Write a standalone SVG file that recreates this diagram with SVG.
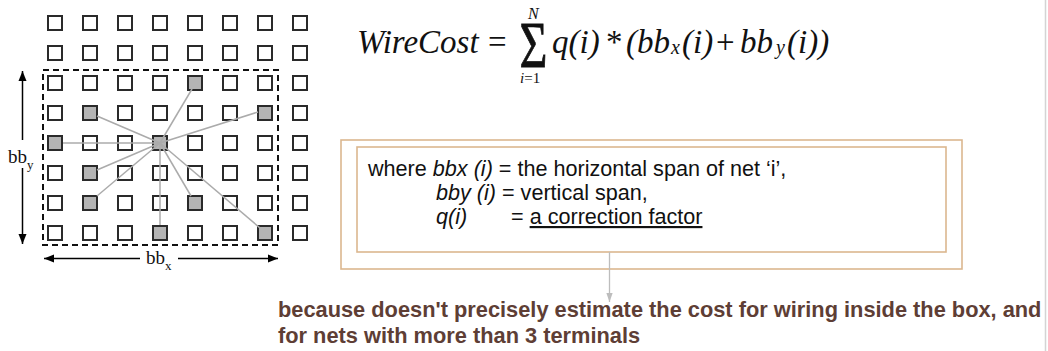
<svg xmlns="http://www.w3.org/2000/svg" width="1048" height="351" viewBox="0 0 1048 351">
<style>
.sq{fill:#fff;stroke:#2a2a2a;stroke-width:2}
.sq.on{fill:#b4b4b4}
.wire{stroke:#ababab;stroke-width:1.5;fill:none}
.ser{font-family:"Liberation Serif","Times New Roman",serif;fill:#111}
.it{font-style:italic}
.sans{font-family:"Liberation Sans",Arial,sans-serif;fill:#111;font-size:21.6px}
.bold{font-family:"Liberation Sans",Arial,sans-serif;font-weight:bold;fill:#5e3e35;font-size:21.8px}
.tan{fill:none;stroke:#dbb78f;stroke-width:1.6}
</style>
<defs>
<marker id="ah" viewBox="0 0 10 10" refX="10" refY="5" markerWidth="10" markerHeight="10" markerUnits="userSpaceOnUse" orient="auto">
<path d="M0,1 L10,5 L0,9 z" fill="#000"/>
</marker>
<marker id="ag" viewBox="0 0 10 10" refX="10" refY="5" markerWidth="9" markerHeight="9" markerUnits="userSpaceOnUse" orient="auto">
<path d="M0,1.5 L10,5 L0,8.5 z" fill="#bdbdbd"/>
</marker>
</defs>
<line x1="1045.5" y1="0" x2="1045.5" y2="351" stroke="#d4d4d4" stroke-width="1.5"/>
<g id="grid">
<rect class="sq" x="48" y="16" width="14" height="14"/><rect class="sq" x="83" y="16" width="14" height="14"/><rect class="sq" x="118" y="16" width="14" height="14"/><rect class="sq" x="153" y="16" width="14" height="14"/><rect class="sq" x="188" y="16" width="14" height="14"/><rect class="sq" x="223" y="16" width="14" height="14"/><rect class="sq" x="258" y="16" width="14" height="14"/><rect class="sq" x="293" y="16" width="14" height="14"/>
<rect class="sq" x="48" y="46" width="14" height="14"/><rect class="sq" x="83" y="46" width="14" height="14"/><rect class="sq" x="118" y="46" width="14" height="14"/><rect class="sq" x="153" y="46" width="14" height="14"/><rect class="sq" x="188" y="46" width="14" height="14"/><rect class="sq" x="223" y="46" width="14" height="14"/><rect class="sq" x="258" y="46" width="14" height="14"/><rect class="sq" x="293" y="46" width="14" height="14"/>
<rect class="sq" x="48" y="76" width="14" height="14"/><rect class="sq" x="83" y="76" width="14" height="14"/><rect class="sq" x="118" y="76" width="14" height="14"/><rect class="sq" x="153" y="76" width="14" height="14"/><rect class="sq on" x="188" y="76" width="14" height="14"/><rect class="sq" x="223" y="76" width="14" height="14"/><rect class="sq" x="258" y="76" width="14" height="14"/><rect class="sq" x="293" y="76" width="14" height="14"/>
<rect class="sq" x="48" y="106" width="14" height="14"/><rect class="sq on" x="83" y="106" width="14" height="14"/><rect class="sq" x="118" y="106" width="14" height="14"/><rect class="sq" x="153" y="106" width="14" height="14"/><rect class="sq" x="188" y="106" width="14" height="14"/><rect class="sq" x="223" y="106" width="14" height="14"/><rect class="sq on" x="258" y="106" width="14" height="14"/><rect class="sq" x="293" y="106" width="14" height="14"/>
<rect class="sq on" x="48" y="136" width="14" height="14"/><rect class="sq" x="83" y="136" width="14" height="14"/><rect class="sq" x="118" y="136" width="14" height="14"/><rect class="sq on" x="153" y="136" width="14" height="14"/><rect class="sq" x="188" y="136" width="14" height="14"/><rect class="sq" x="223" y="136" width="14" height="14"/><rect class="sq" x="258" y="136" width="14" height="14"/><rect class="sq" x="293" y="136" width="14" height="14"/>
<rect class="sq" x="48" y="166" width="14" height="14"/><rect class="sq on" x="83" y="166" width="14" height="14"/><rect class="sq" x="118" y="166" width="14" height="14"/><rect class="sq" x="153" y="166" width="14" height="14"/><rect class="sq" x="188" y="166" width="14" height="14"/><rect class="sq" x="223" y="166" width="14" height="14"/><rect class="sq" x="258" y="166" width="14" height="14"/><rect class="sq" x="293" y="166" width="14" height="14"/>
<rect class="sq" x="48" y="196" width="14" height="14"/><rect class="sq on" x="83" y="196" width="14" height="14"/><rect class="sq" x="118" y="196" width="14" height="14"/><rect class="sq" x="153" y="196" width="14" height="14"/><rect class="sq on" x="188" y="196" width="14" height="14"/><rect class="sq" x="223" y="196" width="14" height="14"/><rect class="sq" x="258" y="196" width="14" height="14"/><rect class="sq" x="293" y="196" width="14" height="14"/>
<rect class="sq" x="48" y="226" width="14" height="14"/><rect class="sq" x="83" y="226" width="14" height="14"/><rect class="sq" x="118" y="226" width="14" height="14"/><rect class="sq on" x="153" y="226" width="14" height="14"/><rect class="sq" x="188" y="226" width="14" height="14"/><rect class="sq" x="223" y="226" width="14" height="14"/><rect class="sq on" x="258" y="226" width="14" height="14"/><rect class="sq" x="293" y="226" width="14" height="14"/>
<rect x="43" y="70" width="235" height="175" fill="none" stroke="#111" stroke-width="2" stroke-dasharray="6 4"/>
</g>
<g id="wires">
<line class="wire" x1="160" y1="143" x2="192" y2="89"/>
<line class="wire" x1="160" y1="143" x2="97" y2="116"/>
<line class="wire" x1="160" y1="143" x2="258" y2="112"/>
<line class="wire" x1="160" y1="143" x2="63" y2="143"/>
<line class="wire" x1="160" y1="143" x2="97" y2="170"/>
<line class="wire" x1="160" y1="143" x2="97" y2="196"/>
<line class="wire" x1="160" y1="143" x2="191" y2="196"/>
<line class="wire" x1="160" y1="143" x2="160" y2="225"/>
<line class="wire" x1="160" y1="143" x2="260" y2="228"/>
</g>
<g id="dims">
<line x1="22.5" y1="140" x2="22.5" y2="71" stroke="#000" stroke-width="1.5" marker-end="url(#ah)"/>
<line x1="22.5" y1="168" x2="22.5" y2="244" stroke="#000" stroke-width="1.5" marker-end="url(#ah)"/>
<text class="ser" x="8" y="163" font-size="19">bb<tspan font-size="13" dy="6">y</tspan></text>
<line x1="140" y1="258.5" x2="44" y2="258.5" stroke="#000" stroke-width="1.5" marker-end="url(#ah)"/>
<line x1="178" y1="258.5" x2="278" y2="258.5" stroke="#000" stroke-width="1.5" marker-end="url(#ah)"/>
<text class="ser" x="146" y="264" font-size="19">bb<tspan font-size="13" dy="6">x</tspan></text>
</g>
<g id="formula" class="ser">
<text class="it" x="357" y="53" font-size="33">WireCost</text>
<text x="488" y="53" font-size="33">=</text>
<text x="0" y="0" font-size="48" text-anchor="middle" stroke="#111" stroke-width="0.6" transform="translate(533.5,67) scale(1,1.35)">Σ</text>
<text class="it" x="528" y="19" font-size="16">N</text>
<text x="520" y="83" font-size="15"><tspan class="it">i</tspan>=1</text>
<text class="it" x="552" y="53" font-size="33">q(i)</text>
<text x="606" y="53" font-size="33">*</text>
<text class="it" x="626" y="53" font-size="33">(bb</text>
<text class="it" x="671" y="54" font-size="20">x</text>
<text class="it" x="682" y="53" font-size="33">(i)</text>
<text x="716" y="53" font-size="33">+</text>
<text class="it" x="740" y="53" font-size="33">bb</text>
<text class="it" x="776" y="54" font-size="20">y</text>
<text class="it" x="787" y="53" font-size="33">(i))</text>
</g>
<g id="note">
<rect class="tan" x="341" y="140" width="621" height="129"/>
<rect class="tan" x="357" y="147" width="589" height="105"/>
<text class="sans" x="368" y="176">where <tspan font-style="italic">bbx (i)</tspan> = the horizontal span of net ‘i’,</text>
<text class="sans" x="436" y="200"><tspan font-style="italic">bby (i)</tspan> = vertical span,</text>
<text class="sans" x="436" y="224"><tspan font-style="italic">q(i)</tspan></text>
<text class="sans" x="511" y="224">= <tspan text-decoration="underline">a correction factor</tspan></text>
</g>
<g id="connectors">
<line x1="609.5" y1="252" x2="609.5" y2="302" stroke="#bdbdbd" stroke-width="1.3" marker-end="url(#ag)"/>
</g>
<g id="reason">
<text class="bold" x="278" y="317">because doesn't precisely estimate the cost for wiring inside the box, and</text>
<text class="bold" x="278" y="343">for nets with more than 3 terminals</text>
</g>
</svg>
